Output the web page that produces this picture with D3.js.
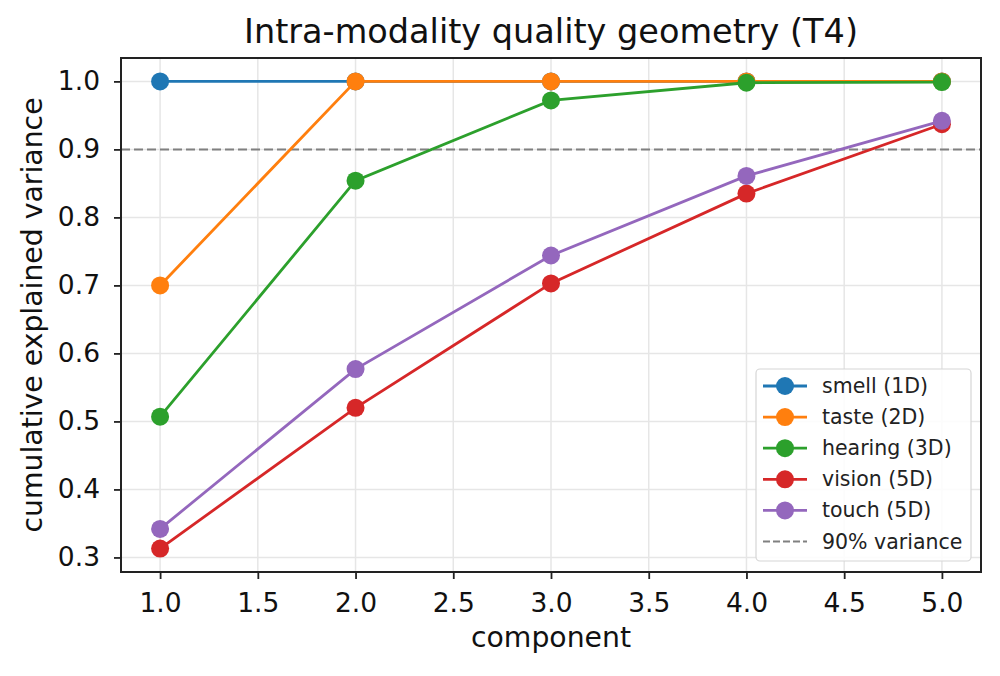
<!DOCTYPE html>
<html>
<head>
<meta charset="utf-8">
<script src="https://cdn.jsdelivr.net/npm/d3@7"></script>
<style>
  body { margin: 0; background: #fff; }
  svg { font-family: "DejaVu Sans", sans-serif; }
</style>
</head>
<body>
<svg id="chart" width="1000" height="676"></svg>
<script>
// data
const components = [1, 2, 3, 4, 5];
const smell   = [1.000, 1.000, 1.000, 1.000, 1.000];
const taste   = [0.700, 1.000, 1.000, 1.000, 1.000];
const hearing = [0.507, 0.854, 0.972, 0.998, 0.999];
const vision  = [0.313, 0.520, 0.703, 0.835, 0.937];
const touch   = [0.342, 0.577, 0.744, 0.861, 0.942];
const seriesNames = ["smell (1D)", "taste (2D)", "hearing (3D)", "vision (5D)", "touch (5D)"];
const xTicks = [1.0, 1.5, 2.0, 2.5, 3.0, 3.5, 4.0, 4.5, 5.0];
const yTicks = [0.3, 0.4, 0.5, 0.6, 0.7, 0.8, 0.9, 1.0];
const threshold = 0.9;

const colors = ["#1f77b4", "#ff7f0e", "#2ca02c", "#d62728", "#9467bd"];
const allSeries = [smell, taste, hearing, vision, touch];

const svg = d3.select("#chart");
// plot area edges (avoid window.top name clash)
const plotL = 121, plotR = 981, plotT = 58, plotB = 572;

const x = d3.scaleLinear().domain([0.8, 5.2]).range([plotL, plotR]);
const y = d3.scaleLinear().domain([0.2786, 1.0344]).range([plotB, plotT]);

// grid
svg.append("g").selectAll("line").data(xTicks).join("line")
    .attr("x1", d => x(d)).attr("x2", d => x(d))
    .attr("y1", plotT).attr("y2", plotB)
    .attr("stroke", "#e6e6e6").attr("stroke-width", 1.5);
svg.append("g").selectAll("line").data(yTicks).join("line")
    .attr("x1", plotL).attr("x2", plotR)
    .attr("y1", d => y(d)).attr("y2", d => y(d))
    .attr("stroke", "#e6e6e6").attr("stroke-width", 1.5);

// 90% reference line
svg.append("line")
    .attr("x1", plotL).attr("x2", plotR)
    .attr("y1", y(threshold)).attr("y2", y(threshold))
    .attr("stroke", "#808080").attr("stroke-width", 2)
    .attr("stroke-dasharray", "9,4");

// lines + markers
let line = d3.line().x((d, i) => x(components[i])).y(d => y(d));
allSeries.forEach(function (s, k) {
  let g = svg.append("g");
  g.append("path")
      .datum(s)
      .attr("d", line)
      .attr("fill", "none")
      .attr("stroke", colors[k])
      .attr("stroke-width", 2.8);
  g.selectAll("circle").data(s).join("circle")
      .attr("cx", (d, i) => x(components[i]))
      .attr("cy", d => y(d))
      .attr("r", 9)
      .attr("fill", colors[k]);
});

// axes
let xAxis = svg.append("g")
    .attr("transform", "translate(0," + plotB + ")")
    .call(d3.axisBottom(x).tickValues(xTicks).tickFormat(d3.format(".1f")).tickSizeOuter(0).tickSize(7).tickPadding(14));
let yAxis = svg.append("g")
    .attr("transform", "translate(" + plotL + ",0)")
    .call(d3.axisLeft(y).tickValues(yTicks).tickFormat(d3.format(".1f")).tickSizeOuter(0).tickSize(7).tickPadding(14));
[xAxis, yAxis].forEach(function (a) {
  a.select(".domain").remove();
  a.selectAll(".tick line").attr("stroke", "#222").attr("stroke-width", 1.8);
  a.selectAll(".tick text").attr("font-size", 26.5).attr("fill", "#111")
      .attr("font-family", "DejaVu Sans");
});

// frame
svg.append("rect")
    .attr("x", plotL).attr("y", plotT)
    .attr("width", plotR - plotL).attr("height", plotB - plotT)
    .attr("fill", "none").attr("stroke", "#222").attr("stroke-width", 2);

// labels
svg.append("text")
    .attr("x", (plotL + plotR) / 2).attr("y", 43)
    .attr("text-anchor", "middle").attr("font-size", 33.5).attr("fill", "#111")
    .text("Intra-modality quality geometry (T4)");
svg.append("text")
    .attr("x", (plotL + plotR) / 2).attr("y", 647)
    .attr("text-anchor", "middle").attr("font-size", 28.3).attr("fill", "#111")
    .text("component");
svg.append("text")
    .attr("transform", "translate(42," + ((plotT + plotB) / 2) + ")rotate(-90)")
    .attr("text-anchor", "middle").attr("font-size", 28.3).attr("fill", "#111")
    .text("cumulative explained variance");

// legend
let legend = svg.append("g");
legend.append("rect")
    .attr("x", 756).attr("y", 369).attr("width", 215).attr("height", 192)
    .attr("rx", 4).attr("fill", "#fff").attr("fill-opacity", 0.85)
    .attr("stroke", "#d6d6d6").attr("stroke-width", 1.2);
let legendItems = seriesNames.map((n, i) => ({ name: n, color: colors[i], dashed: false }));
legendItems.push({ name: "90% variance", color: "#808080", dashed: true });
legendItems.forEach(function (d, i) {
  let ly = 386 + i * 31.1;
  legend.append("line")
      .attr("x1", 763).attr("x2", 807).attr("y1", ly).attr("y2", ly)
      .attr("stroke", d.color).attr("stroke-width", d.dashed ? 1.8 : 2.8)
      .attr("stroke-dasharray", d.dashed ? "7,3" : null);
  if (!d.dashed) {
    legend.append("circle").attr("cx", 785).attr("cy", ly).attr("r", 9).attr("fill", d.color);
  }
  legend.append("text")
      .attr("x", 822).attr("y", ly + 7)
      .attr("font-size", 20.5).attr("fill", "#222")
      .text(d.name);
});
</script>
</body>
</html>
